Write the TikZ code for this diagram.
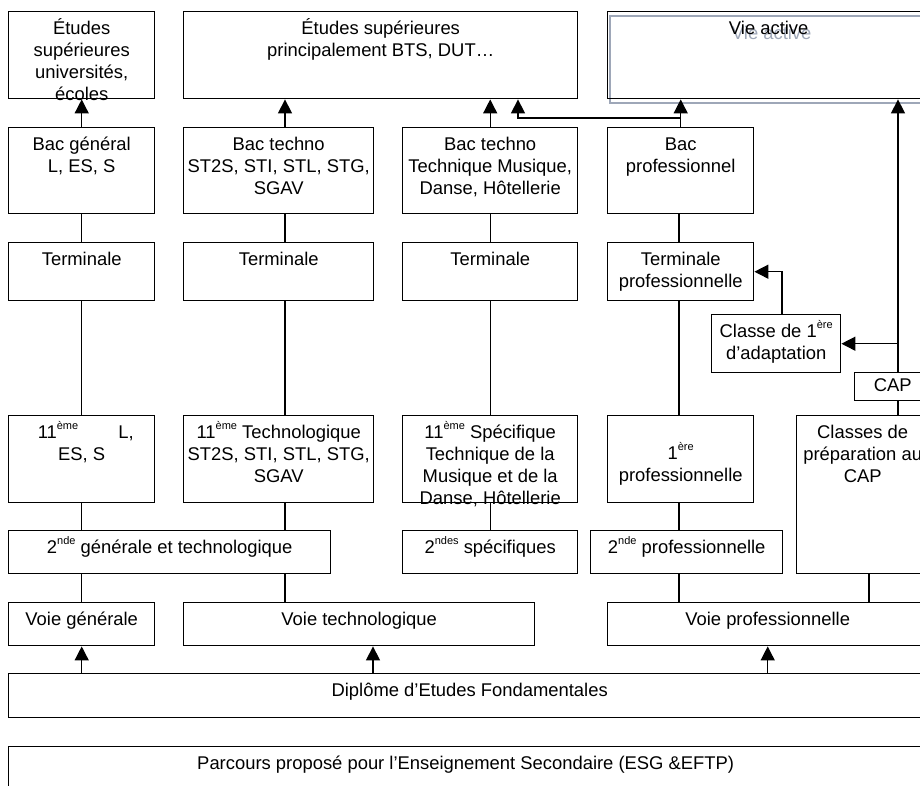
\documentclass[tikz,border=0pt]{standalone}
\usepackage{fontspec}
\setmainfont{Liberation Sans}
\usetikzlibrary{arrows.meta}
\definecolor{ghostgray}{HTML}{9EA7B8}
\newcommand\ordsup[1]{\raisebox{9pt}{\fontsize{11}{11}\selectfont #1}}
\newcommand\cellt[4][23pt]{\parbox[t][#3][t]{#2}{\centering\rule{0pt}{#1}#4}}
\tikzset{
  cell/.style={draw, line width=1.4pt, inner sep=0pt, anchor=north west,
    font=\fontsize{18.4}{22}\selectfont},
  link/.style={line width=1.4pt},
  up/.style={link, -{Triangle[length=14pt,width=14pt]}},
  ghost/.style={draw=ghostgray, line width=1.3pt},
}
\begin{document}
\begin{tikzpicture}[x=1pt,y=-1pt]
\useasboundingbox (0,0) rectangle (920,785);
\clip (0,0) rectangle (920,785);
\def\ra{11}
\def\rb{127}
\def\rc{242}
\def\rd{415}
\def\re{530}
\def\rf{602}
\coordinate (colB) at (285,0);
\coordinate (colD) at (679,0);
\coordinate (colE) at (898,0);
\coordinate (colF) at (869,0);
\coordinate (colG) at (782,0);
\coordinate (colT) at (373,0);
\coordinate (jog) at (518,118);
% studies / working life
\node[cell] (etudA) at (8,\ra) {\cellt{146pt}{87pt}{Études\\supérieures\\universités,\\écoles}};
\node[cell] (etudB) at (183,\ra) {\cellt{394pt}{87pt}{Études supérieures\\principalement BTS, DUT…}};
\draw[ghost] (610,16) rectangle (935,103);
\node[cell, draw=none, text=ghostgray] (vieghost) at (610,16) {\cellt{322pt}{87pt}{Vie active}};
\node[cell] (vie) at (607,\ra) {\cellt{322pt}{87pt}{Vie active}};
% bac
\node[cell] (bacg) at (8,\rb) {\cellt{146pt}{86pt}{Bac général\\L, ES, S}};
\node[cell] (bact) at (183,\rb) {\cellt{190pt}{86pt}{Bac techno\\ST2S, STI, STL, STG,\\SGAV}};
\node[cell] (bacm) at (402,\rb) {\cellt{175pt}{86pt}{Bac techno\\Technique Musique,\\Danse, Hôtellerie}};
\node[cell] (bacp) at (607,\rb) {\cellt{146pt}{86pt}{Bac\\professionnel}};
% terminale
\node[cell] (termg) at (8,\rc) {\cellt{146pt}{58pt}{Terminale}};
\node[cell] (termt) at (183,\rc) {\cellt{190pt}{58pt}{Terminale}};
\node[cell] (termm) at (402,\rc) {\cellt{175pt}{58pt}{Terminale}};
\node[cell] (termp) at (607,\rc) {\cellt{146pt}{58pt}{Terminale\\professionnelle}};
\node[cell] (classe) at (711,314) {\cellt{129pt}{58pt}{Classe de 1\ordsup{ère}\\d’adaptation}};
\node[cell] (cap) at (854,372) {\cellt[19pt]{76pt}{28pt}{CAP}};
% 11eme
\node[cell] (onzeg) at (8,\rd) {\cellt{146pt}{87pt}{\hspace*{8pt}11\ordsup{ème}\hspace{40pt}L,\\ES, S}};
\node[cell] (onzet) at (183,\rd) {\cellt{190pt}{87pt}{11\ordsup{ème} Technologique\\ST2S, STI, STL, STG,\\SGAV}};
\node[cell] (onzem) at (402,\rd) {\cellt{175pt}{87pt}{11\ordsup{ème} Spécifique\\Technique de la\\Musique et de la\\Danse, Hôtellerie}};
\node[cell] (premp) at (607,\rd) {\cellt[44pt]{146pt}{87pt}{1\ordsup{ère}\\professionnelle}};
\node[cell] (prep) at (796,\rd) {\cellt{132pt}{158pt}{Classes de\\préparation au\\CAP}};
% seconde
\node[cell] (sndgt) at (8,\re) {\cellt{322pt}{43pt}{2\ordsup{nde} générale et technologique}};
\node[cell] (snds) at (402,\re) {\cellt{175pt}{43pt}{2\ordsup{ndes} spécifiques}};
\node[cell] (sndp) at (590,\re) {\cellt{192pt}{43pt}{2\ordsup{nde} professionnelle}};
% voies
\node[cell] (voieg) at (8,\rf) {\cellt{146pt}{43pt}{Voie générale}};
\node[cell] (voiet) at (183,\rf) {\cellt{351pt}{43pt}{Voie technologique}};
\node[cell] (voiep) at (607,\rf) {\cellt{320pt}{43pt}{Voie professionnelle}};
\node[cell] (dipl) at (8,673) {\cellt{922pt}{44pt}{Diplôme d’Etudes Fondamentales}};
\node[cell] (parc) at (8,746) {\cellt{914pt}{60pt}{Parcours proposé pour l’Enseignement Secondaire (ESG \&EFTP)}};
\begin{scope}[up]
\draw (bacg.north) -- (etudA.south);
\draw (bact.north -| colB) -- (etudB.south -| colB);
\draw (bacm.north) -- (etudB.south -| bacm.north);
\draw (bacp.north) |- (jog) -- (etudB.south -| jog);
\draw (bacp.north) -- (vie.south -| bacp.north);
\draw (cap.north -| colE) -- (vie.south -| colE);
\draw (classe.east -| colE) -- (classe.east);
\draw (classe.north -| colG) |- (termp.east);
\draw (dipl.north -| voieg.south) -- (voieg.south);
\draw (dipl.north -| colT) -- (voiet.south -| colT);
\draw (dipl.north -| voiep.south) -- (voiep.south);
\end{scope}
\begin{scope}[link]
\draw (bacg.south) -- (termg.north);
\draw (termg.south) -- (onzeg.north);
\draw (onzeg.south) -- (onzeg.south |- sndgt.north);
\draw (voieg.north |- sndgt.south) -- (voieg.north);
\draw (bact.south -| colB) -- (termt.north -| colB);
\draw (termt.south -| colB) -- (onzet.north -| colB);
\draw (onzet.south -| colB) -- (sndgt.north -| colB);
\draw (sndgt.south -| colB) -- (voiet.north -| colB);
\draw (bacm.south) -- (termm.north);
\draw (termm.south) -- (onzem.north);
\draw (onzem.south) -- (snds.north);
\draw (bacp.south -| colD) -- (termp.north -| colD);
\draw (termp.south -| colD) -- (premp.north -| colD);
\draw (premp.south -| colD) -- (sndp.north -| colD);
\draw (sndp.south -| colD) -- (voiep.north -| colD);
\draw (prep.north -| colE) -- (cap.south -| colE);
\draw (prep.south -| colF) -- (voiep.north -| colF);
\end{scope}
\end{tikzpicture}
\end{document}
